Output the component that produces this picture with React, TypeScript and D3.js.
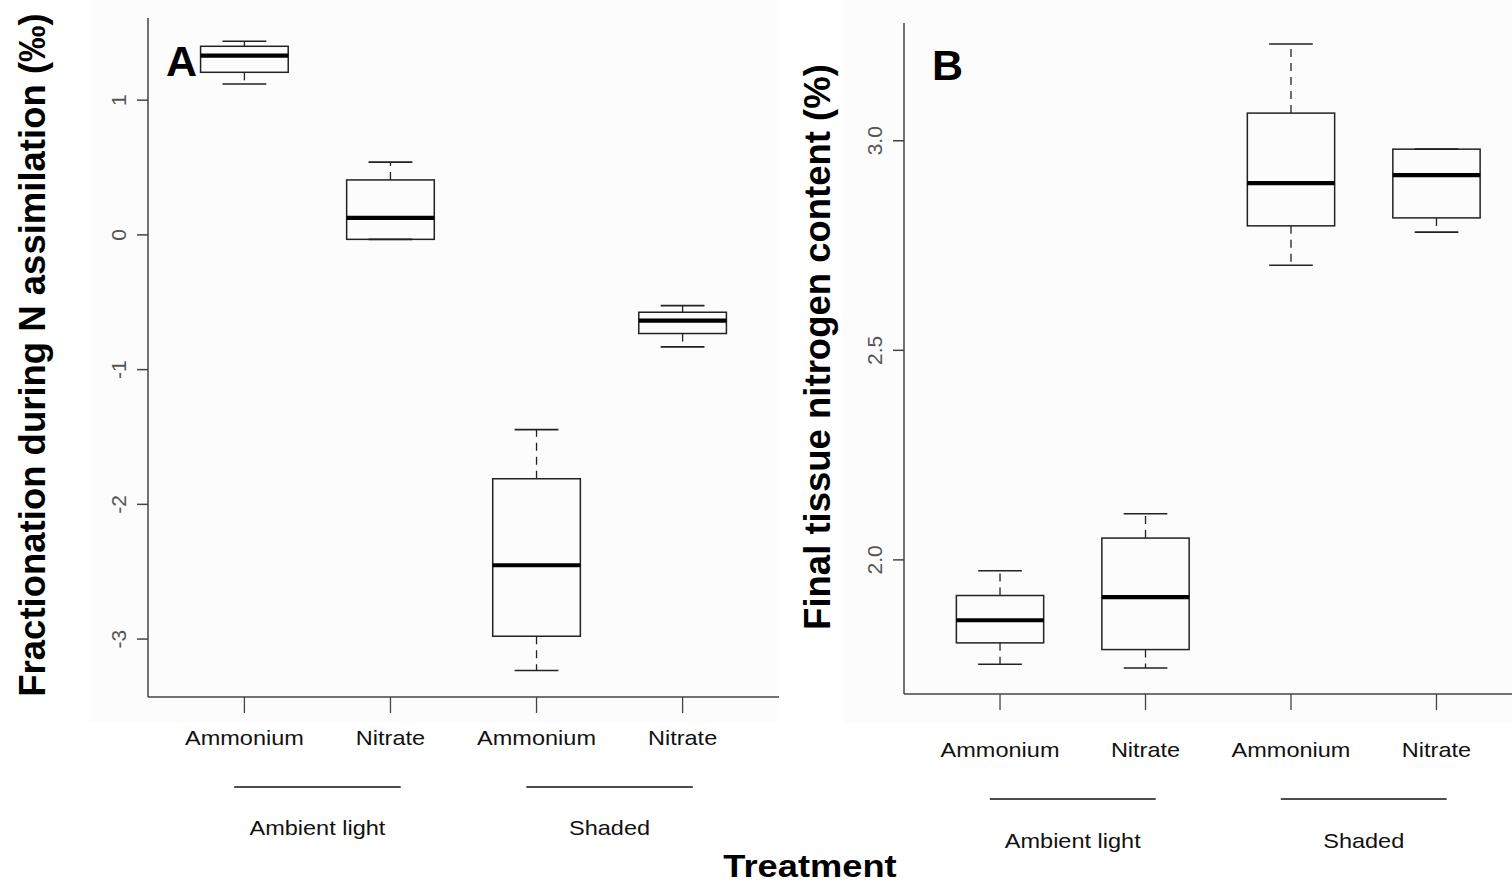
import * as d3 from 'd3';

// treatment categories along the x axis
const categories = ['Ammonium', 'Nitrate', 'Ammonium', 'Nitrate'];
const groups = ['Ambient light', 'Shaded'];
const groupMembers = [[1, 2], [3, 4]];

// panel A: fractionation during N assimilation (‰)
const lowA = [1.12, -0.033, -3.233, -0.831];
const q1A = [1.207, -0.033, -2.979, -0.732];
const medA = [1.33, 0.126, -2.452, -0.636];
const q3A = [1.4, 0.408, -1.81, -0.574];
const highA = [1.437, 0.54, -1.445, -0.525];
const ticksA = [-3, -2, -1, 0, 1];

// panel B: final tissue nitrogen content (%)
const lowB = [1.751, 1.742, 2.703, 2.782];
const q1B = [1.802, 1.786, 2.797, 2.816];
const medB = [1.856, 1.911, 2.899, 2.918];
const q3B = [1.915, 2.052, 3.066, 2.98];
const highB = [1.974, 2.11, 3.231, 2.98];
const ticksB = [2.0, 2.5, 3.0];

const FONT = '"Liberation Sans", Arial, Helvetica, sans-serif';

type PanelProps = {
  letter: string;
  title: string;
  low: number[];
  q1: number[];
  med: number[];
  q3: number[];
  high: number[];
  ticks: number[];
  fmt: (v: number) => string;
  yDomain: [number, number];
  xRange: [number, number];
  yRange: [number, number];
  bg: [number, number, number, number];
  titleX: number;
  titleY: number;
  tickLabelX: number;
  catY: number;
  lineY: number;
  groupY: number;
  letterX: number;
  letterY: number;
};

const Panel = (p: PanelProps) => {
  const x = d3.scaleLinear().domain([0.34, 4.66]).range(p.xRange);
  const y = d3.scaleLinear().domain(p.yDomain).range(p.yRange);
  const [x0, x1] = p.xRange;
  const [yb, yt] = p.yRange;
  const hw = 0.3; // box half width
  const sw = 0.15; // staple half width

  return (
    <g>
      <rect x={p.bg[0]} y={p.bg[1]} width={p.bg[2]} height={p.bg[3]} fill="#fcfcfc" />
      {/* axes, bty = "l" */}
      <line x1={x0} x2={x0} y1={yt} y2={yb} stroke="#444" strokeWidth={1.5} />
      <line x1={x0} x2={x1} y1={yb} y2={yb} stroke="#444" strokeWidth={1.5} />
      {p.ticks.map((t) => (
        <g key={t}>
          <line x1={x0 - 11} x2={x0} y1={y(t)} y2={y(t)} stroke="#444" strokeWidth={1.5} />
          <text
            transform={`translate(${p.tickLabelX},${y(t)}) rotate(-90)`}
            textAnchor="middle"
            fontFamily={FONT}
            fontSize={21}
            fill="#555"
          >
            {p.fmt(t)}
          </text>
        </g>
      ))}
      {categories.map((c, i) => (
        <g key={i}>
          <line x1={x(i + 1)} x2={x(i + 1)} y1={yb} y2={yb + 16} stroke="#444" strokeWidth={1.3} />
          <text
            transform={`translate(${x(i + 1)},${p.catY}) scale(1.12,1)`}
            textAnchor="middle"
            fontFamily={FONT}
            fontSize={21}
            fill="#111"
          >
            {c}
          </text>
        </g>
      ))}
      {groups.map((g, i) => {
        const c = d3.mean(groupMembers[i]) as number;
        return (
          <g key={g}>
            <line x1={x(c - 0.57)} x2={x(c + 0.57)} y1={p.lineY} y2={p.lineY} stroke="#111" strokeWidth={1.6} />
            <text
              transform={`translate(${x(c)},${p.groupY}) scale(1.12,1)`}
              textAnchor="middle"
              fontFamily={FONT}
              fontSize={21}
              fill="#111"
            >
              {g}
            </text>
          </g>
        );
      })}

      {/* boxes */}
      {categories.map((c, i) => {
        const cx = x(i + 1);
        return (
          <g key={'b' + i}>
            <line x1={cx} x2={cx} y1={y(p.q3[i])} y2={y(p.high[i])} stroke="#222" strokeWidth={1.3} strokeDasharray="8,6" />
            <line x1={cx} x2={cx} y1={y(p.q1[i])} y2={y(p.low[i])} stroke="#222" strokeWidth={1.3} strokeDasharray="8,6" />
            <line x1={x(i + 1 - sw)} x2={x(i + 1 + sw)} y1={y(p.high[i])} y2={y(p.high[i])} stroke="#222" strokeWidth={1.6} />
            <line x1={x(i + 1 - sw)} x2={x(i + 1 + sw)} y1={y(p.low[i])} y2={y(p.low[i])} stroke="#222" strokeWidth={1.6} />
            <rect
              x={x(i + 1 - hw)}
              y={y(p.q3[i])}
              width={x(i + 1 + hw) - x(i + 1 - hw)}
              height={y(p.q1[i]) - y(p.q3[i])}
              fill="none"
              stroke="#222"
              strokeWidth={1.5}
            />
            <line x1={x(i + 1 - hw)} x2={x(i + 1 + hw)} y1={y(p.med[i])} y2={y(p.med[i])} stroke="#000" strokeWidth={4.2} />
          </g>
        );
      })}

      <text x={p.letterX} y={p.letterY} fontFamily={FONT} fontWeight="bold" fontSize={43} fill="#000">
        {p.letter}
      </text>
      <text
        transform={`translate(${p.titleX},${p.titleY}) rotate(-90)`}
        textAnchor="middle"
        fontFamily={FONT}
        fontWeight="bold"
        fontSize={36.5}
        fill="#000"
      >
        {p.title}
      </text>
    </g>
  );
};

const App = () => {
  return (
    <svg
      width={1512}
      height={888}
      style={{ position: 'absolute', left: 0, top: 0, background: '#fff' }}
    >
      <rect x={0} y={0} width={1512} height={888} fill="#fff" />
      <Panel
        letter="A"
        title="Fractionation during N assimilation (‰)"
        low={lowA}
        q1={q1A}
        med={medA}
        q3={q3A}
        high={highA}
        ticks={ticksA}
        fmt={(v) => d3.format('d')(v).replace('−', '-')}
        yDomain={[-3.43, 1.61]}
        xRange={[148, 779]}
        yRange={[697, 18]}
        bg={[90, 0, 687, 722]}
        titleX={45}
        titleY={355}
        tickLabelX={126}
        catY={745}
        lineY={787}
        groupY={835}
        letterX={166}
        letterY={76}
      />
      <Panel
        letter="B"
        title="Final tissue nitrogen content (%)"
        low={lowB}
        q1={q1B}
        med={medB}
        q3={q3B}
        high={highB}
        ticks={ticksB}
        fmt={(v) => d3.format('.1f')(v)}
        yDomain={[1.68, 3.281]}
        xRange={[904, 1532.5]}
        yRange={[694, 23]}
        bg={[843, 0, 669, 723]}
        titleX={830}
        titleY={347}
        tickLabelX={882}
        catY={757}
        lineY={799}
        groupY={848}
        letterX={932}
        letterY={80}
      />
      <text
        transform="translate(810,877) scale(1.17,1)"
        textAnchor="middle"
        fontFamily={FONT}
        fontWeight="bold"
        fontSize={31}
        fill="#000"
      >
        Treatment
      </text>
    </svg>
  );
};

export default App;
